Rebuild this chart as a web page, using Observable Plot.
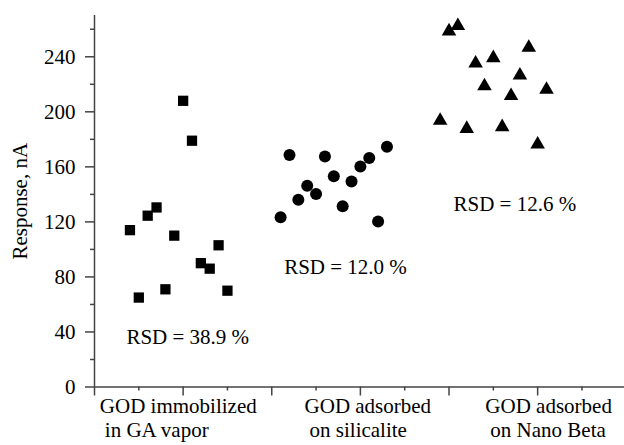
<!DOCTYPE html>
<html><head><meta charset="utf-8">
<script src="https://cdn.jsdelivr.net/npm/d3@7"></script>
<script src="https://cdn.jsdelivr.net/npm/@observablehq/plot@0.6"></script>
<style>body{margin:0;background:#fff} svg{display:block}</style>
</head><body><div id="chart"></div>
<script>
// GOD immobilized in GA vapor (squares)
const gaX = [0.4, 0.5, 0.6, 0.7, 0.8, 0.9, 1.0, 1.1, 1.2, 1.3, 1.4, 1.5];
const gaY = [114, 65, 124.5, 130.5, 71, 110, 208, 179, 90, 86, 103, 70];
// GOD adsorbed on silicalite (circles)
const silX = [2.1, 2.2, 2.3, 2.4, 2.5, 2.6, 2.7, 2.8, 2.9, 3.0, 3.1, 3.2, 3.3];
const silY = [123.3, 168.6, 136.1, 146.3, 140.3, 167.6, 153.1, 131.3, 149.4, 160.3, 166.4, 120.3, 174.6];
// GOD adsorbed on Nano Beta (triangles)
const betaX = [3.9, 4.0, 4.1, 4.2, 4.3, 4.4, 4.5, 4.6, 4.7, 4.8, 4.9, 5.0, 5.1];
const betaY = [193.6, 258.6, 262.5, 187.7, 235.2, 218.7, 239.1, 189.0, 211.6, 226.5, 246.7, 176.3, 216.2];

const rsdText = ["RSD = 38.9 %", "RSD = 12.0 %", "RSD = 12.6 %"];
const rsdX = [0.36, 2.14, 4.05];
const rsdY = [36.3, 87.2, 133.1];

const catLine1 = ["GOD immobilized", "GOD adsorbed", "GOD adsorbed"];
const catLine2 = ["in GA vapor", "on silicalite", "on Nano Beta"];
const catX = [0.06, 2.37, 4.41];

const yMajor = [0, 40, 80, 120, 160, 200, 240];
const yMinor = [20, 60, 100, 140, 180, 220, 260];
const xMajor = [0, 1, 2, 3, 4, 5];
const xMinor = [0.5, 1.5, 2.5, 3.5, 4.5, 5.5];
const yTitle = "Response, nA";

const pts = (xs, ys) => xs.map((x, i) => ({x, y: ys[i]}));
const ga = pts(gaX, gaY), sil = pts(silX, silY), beta = pts(betaX, betaY);
const rsd = rsdText.map((t, i) => ({t, x: rsdX[i], y: rsdY[i]}));
const cats = catLine1.map((t, i) => ({a: t, b: catLine2[i], x: catX[i]}));

const axisColor = "#444";
const font = "Liberation Serif";
const txt = {fontFamily: font, fontSize: 21, fill: "#000"};

const chart = Plot.plot({
  width: 624, height: 445,
  marginLeft: 94, marginRight: 0, marginTop: 15, marginBottom: 58.5,
  style: {fontFamily: font, fontSize: "21px", color: "#000", background: "#fff"},
  x: {domain: [0, 5.98]},
  y: {domain: [0, 270]},
  marks: [
    Plot.axisY(yMajor, {tickSize: 9, tickPadding: 10, label: null, stroke: axisColor, strokeWidth: 1.5, fontFamily: font, fontSize: 21, fill: "#000"}),
    Plot.axisY(yMinor, {tickSize: 4, tickFormat: () => "", label: null, stroke: axisColor, strokeWidth: 1.5}),
    Plot.axisX(xMajor, {tickSize: 9, tickFormat: () => "", label: null, stroke: axisColor, strokeWidth: 1.5}),
    Plot.axisX(xMinor, {tickSize: 4, tickFormat: () => "", label: null, stroke: axisColor, strokeWidth: 1.5}),
    Plot.ruleX([0], {stroke: axisColor, strokeWidth: 1.5}),
    Plot.ruleY([0], {stroke: axisColor, strokeWidth: 1.5}),
    Plot.dot(ga, {x: "x", y: "y", symbol: "square", r: 5.8, fill: "#000", stroke: "none"}),
    Plot.dot(sil, {x: "x", y: "y", symbol: "circle", r: 6, fill: "#000", stroke: "none"}),
    Plot.dot(beta, {x: "x", y: "y", symbol: "triangle", r: 5.4, fill: "#000", stroke: "none"}),
    Plot.text(rsd, {x: "x", y: "y", text: "t", textAnchor: "start", ...txt}),
    Plot.text(cats, {x: "x", text: "a", frameAnchor: "bottom", textAnchor: "start", dy: 26, ...txt}),
    Plot.text(cats, {x: "x", text: "b", frameAnchor: "bottom", textAnchor: "start", dx: 5, dy: 49.5, ...txt}),
    Plot.text([yTitle], {frameAnchor: "left", textAnchor: "middle", dx: -74, rotate: -90, ...txt})
  ]
});
document.getElementById("chart").appendChild(chart);
</script>
</body></html>
